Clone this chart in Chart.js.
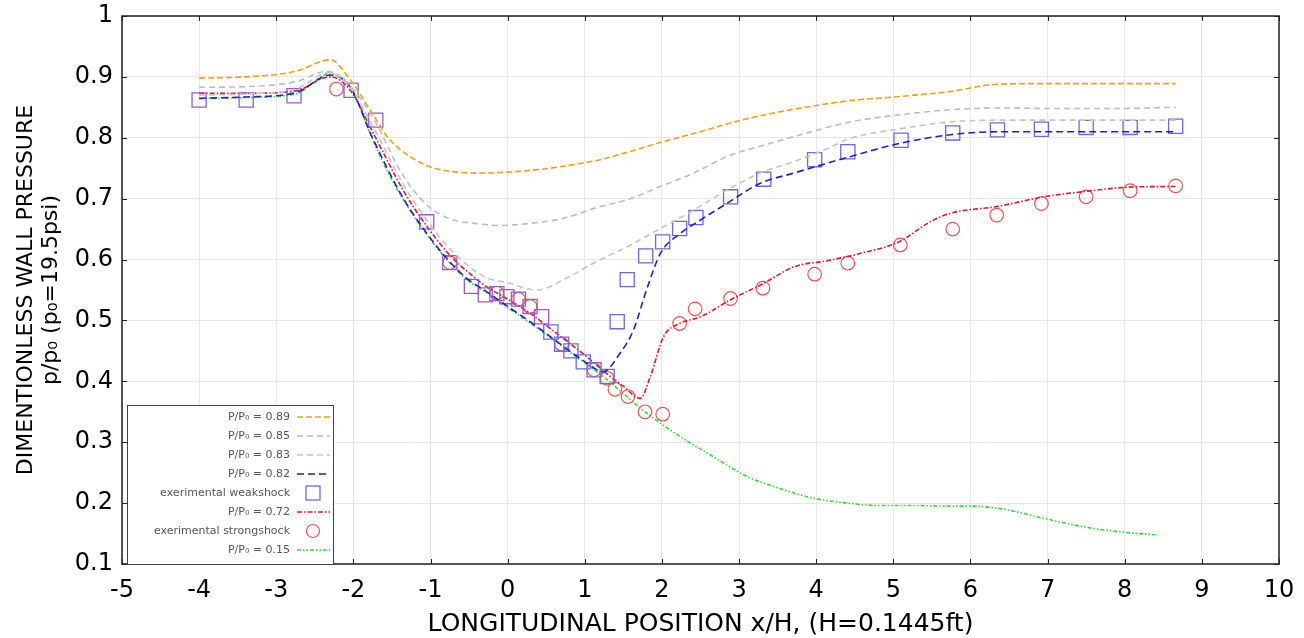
<!DOCTYPE html>
<html>
<head>
<meta charset="utf-8">
<title>Wall pressure distribution</title>
<script src="https://cdn.jsdelivr.net/npm/chart.js@4.4.1/dist/chart.umd.min.js"></script>
<style>
    html, body { margin: 0; padding: 0; background: #fff; }
    #wrap { width: 1304px; height: 638px; }
</style>
</head>
<body>
<div id="wrap"><canvas id="chart" width="1304" height="638"></canvas></div>
<script>
// x/H positions and p/p0 values for each computed back-pressure case
const p089X = [-4.0, -3.4, -2.75, -2.3, -2.04, -1.70, -1.55, -1.3, -1.0, -0.75, -0.4, -0.1, 0.25, 0.55, 0.9, 1.2, 1.6, 2.0, 2.5, 3.0, 3.5, 4.0, 4.44, 5.1, 5.74, 6.35, 7.04, 7.8, 8.66];
const p089Y = [0.898, 0.900, 0.909, 0.928, 0.895, 0.829, 0.800, 0.772, 0.752, 0.745, 0.742, 0.743, 0.746, 0.750, 0.757, 0.764, 0.778, 0.793, 0.810, 0.828, 0.842, 0.853, 0.861, 0.868, 0.876, 0.888, 0.889, 0.889, 0.889];

const p085X = [-4.0, -3.4, -2.75, -2.34, -2.04, -1.71, -1.39, -1.05, -0.75, -0.4, -0.1, 0.33, 0.7, 1.2, 1.55, 1.98, 2.41, 2.84, 3.3, 3.8, 4.44, 5.1, 5.74, 6.4, 7.04, 7.8, 8.66];
const p085Y = [0.883, 0.884, 0.892, 0.909, 0.885, 0.825, 0.745, 0.690, 0.667, 0.659, 0.656, 0.660, 0.667, 0.687, 0.698, 0.720, 0.742, 0.769, 0.787, 0.805, 0.826, 0.838, 0.846, 0.849, 0.848, 0.848, 0.850];

const p083X = [-4.0, -3.4, -2.75, -2.32, -2.04, -1.76, -1.36, -1.05, -0.75, -0.31, 0.0, 0.38, 0.77, 1.11, 1.55, 1.98, 2.41, 2.84, 3.27, 3.71, 4.14, 4.44, 5.1, 5.74, 6.4, 7.04, 7.8, 8.66];
const p083Y = [0.870, 0.872, 0.880, 0.907, 0.882, 0.822, 0.725, 0.665, 0.618, 0.572, 0.562, 0.550, 0.570, 0.594, 0.621, 0.651, 0.681, 0.714, 0.742, 0.761, 0.782, 0.799, 0.815, 0.826, 0.829, 0.829, 0.829, 0.829];

const p082X = [-4.0, -3.4, -2.75, -2.3, -2.04, -1.76, -1.36, -1.1, -0.79, -0.53, -0.27, 0.0, 0.3, 0.6, 0.98, 1.24, 1.45, 1.63, 1.80, 1.98, 2.24, 2.5, 2.84, 3.27, 3.71, 4.44, 5.09, 5.74, 6.39, 7.2, 8.0, 8.66];
const p082Y = [0.865, 0.867, 0.874, 0.903, 0.883, 0.802, 0.702, 0.652, 0.602, 0.569, 0.547, 0.523, 0.497, 0.469, 0.434, 0.416, 0.445, 0.484, 0.550, 0.610, 0.643, 0.665, 0.692, 0.725, 0.742, 0.769, 0.791, 0.805, 0.810, 0.810, 0.810, 0.810];

const p072X = [-4.0, -3.4, -2.75, -2.3, -2.04, -1.76, -1.36, -1.05, -0.75, -0.5, -0.27, 0.0, 0.3, 0.6, 1.0, 1.29, 1.5, 1.72, 1.85, 2.02, 2.23, 2.5, 2.89, 3.32, 3.71, 4.14, 4.57, 5.09, 5.45, 5.74, 6.34, 6.95, 7.5, 8.07, 8.66];
const p072Y = [0.873, 0.873, 0.877, 0.900, 0.878, 0.812, 0.715, 0.655, 0.607, 0.578, 0.555, 0.535, 0.511, 0.482, 0.443, 0.412, 0.392, 0.372, 0.408, 0.473, 0.495, 0.506, 0.534, 0.561, 0.588, 0.598, 0.610, 0.630, 0.660, 0.676, 0.687, 0.703, 0.712, 0.719, 0.720];

const p015X = [-4.0, -3.4, -2.75, -2.3, -2.04, -1.9, -1.76, -1.56, -1.36, -1.1, -0.79, -0.53, -0.27, 0.0, 0.3, 0.6, 0.98, 1.24, 1.5, 1.8, 2.24, 2.67, 3.1, 3.53, 3.97, 4.4, 4.83, 5.3, 5.74, 6.0, 6.43, 6.95, 7.47, 7.99, 8.40];
const p015Y = [0.864, 0.866, 0.872, 0.905, 0.884, 0.845, 0.800, 0.745, 0.700, 0.650, 0.600, 0.567, 0.545, 0.521, 0.495, 0.467, 0.432, 0.408, 0.380, 0.348, 0.309, 0.276, 0.244, 0.224, 0.208, 0.200, 0.196, 0.196, 0.195, 0.195, 0.190, 0.175, 0.161, 0.152, 0.148];

// measured wall pressures
const weakX = [-4.00, -3.39, -2.77, -2.03, -1.71, -1.05, -0.75, -0.47, -0.29, -0.14, -0.01, 0.14, 0.29, 0.44, 0.56, 0.70, 0.82, 0.98, 1.12, 1.29, 1.42, 1.55, 1.79, 2.01, 2.23, 2.44, 2.89, 3.32, 3.98, 4.41, 5.10, 5.77, 6.35, 6.92, 7.50, 8.07, 8.66];
const weakY = [0.862, 0.862, 0.869, 0.878, 0.829, 0.662, 0.595, 0.556, 0.542, 0.544, 0.539, 0.535, 0.523, 0.506, 0.481, 0.461, 0.450, 0.432, 0.419, 0.408, 0.498, 0.567, 0.606, 0.629, 0.651, 0.669, 0.703, 0.732, 0.764, 0.777, 0.796, 0.808, 0.813, 0.814, 0.817, 0.817, 0.819];

const strongX = [-2.22, -0.75, -0.14, 0.14, 0.29, 0.70, 1.12, 1.29, 1.39, 1.56, 1.78, 2.01, 2.23, 2.43, 2.89, 3.31, 3.98, 4.41, 5.09, 5.77, 6.34, 6.92, 7.50, 8.07, 8.66];
const strongY = [0.880, 0.595, 0.545, 0.535, 0.523, 0.461, 0.419, 0.405, 0.387, 0.375, 0.350, 0.346, 0.495, 0.519, 0.536, 0.553, 0.576, 0.594, 0.624, 0.650, 0.673, 0.692, 0.703, 0.713, 0.721];

const xTicks = [-5, -4, -3, -2, -1, 0, 1, 2, 3, 4, 5, 6, 7, 8, 9, 10];
const yTicks = [0.1, 0.2, 0.3, 0.4, 0.5, 0.6, 0.7, 0.8, 0.9, 1];

const FONT = '"DejaVu Sans", "Liberation Sans", sans-serif';

function points(xs, ys) {
    return xs.map((x, i) => ({ x: x, y: ys[i] }));
}

function curve(label, xs, ys, color, dash) {
    return {
        label: label,
        data: points(xs, ys),
        showLine: true,
        borderColor: color,
        backgroundColor: color,
        borderWidth: 1.6,
        borderDash: dash,
        pointRadius: 0,
        pointHoverRadius: 0,
        cubicInterpolationMode: 'monotone'
    };
}

// squares that sit under both test runs come out in a purple tint
const weakColors = weakX.map((x) => (x <= 0.45 && Math.abs(x + 2.03) > 0.01) ? '#9a5ac8' : '#6a6ae0');

const datasets = [
    curve('P/P\u2080 = 0.89', p089X, p089Y, '#f0a214', [6, 3]),
    curve('P/P\u2080 = 0.85', p085X, p085Y, '#bdbdbd', [6, 4]),
    curve('P/P\u2080 = 0.83', p083X, p083Y, '#c4c4c4', [6, 4]),
    curve('P/P\u2080 = 0.82', p082X, p082Y, '#1f1fcc', [7, 4]),
    {
        label: 'exerimental weakshock',
        data: points(weakX, weakY),
        showLine: false,
        pointStyle: 'rect',
        pointRadius: 10,
        pointBorderWidth: 1.3,
        pointBorderColor: weakColors,
        pointBackgroundColor: 'rgba(0,0,0,0)',
        borderColor: '#6a6ae0',
        backgroundColor: 'rgba(0,0,0,0)'
    },
    curve('P/P\u2080 = 0.72', p072X, p072Y, '#e3172b', [5, 2, 1.5, 2]),
    {
        label: 'exerimental strongshock',
        data: points(strongX, strongY),
        showLine: false,
        pointStyle: 'circle',
        pointRadius: 6.8,
        pointBorderWidth: 1.2,
        pointBorderColor: '#ee5555',
        pointBackgroundColor: 'rgba(0,0,0,0)',
        borderColor: '#ee5555',
        backgroundColor: 'rgba(0,0,0,0)'
    },
    curve('P/P\u2080 = 0.15', p015X, p015Y, '#35d835', [4, 2, 1.5, 2, 1.5, 2])
];

// plot frame with small inward ticks on all four sides
const frame = {
    id: 'frame',
    beforeDatasetsDraw(chart) {
        const { ctx, chartArea: a, scales } = chart;
        ctx.save();
        ctx.strokeStyle = '#222';
        ctx.lineWidth = 1.5;
        ctx.strokeRect(a.left, a.top, a.right - a.left, a.bottom - a.top);
        ctx.lineWidth = 1;
        ctx.beginPath();
        xTicks.forEach((v) => {
            const px = Math.round(scales.x.getPixelForValue(v)) + 0.5;
            ctx.moveTo(px, a.top); ctx.lineTo(px, a.top + 5);
            ctx.moveTo(px, a.bottom); ctx.lineTo(px, a.bottom - 5);
        });
        yTicks.forEach((v) => {
            const py = Math.round(scales.y.getPixelForValue(v)) + 0.5;
            ctx.moveTo(a.left, py); ctx.lineTo(a.left + 5, py);
            ctx.moveTo(a.right, py); ctx.lineTo(a.right - 5, py);
        });
        ctx.stroke();
        ctx.restore();
    }
};

// key box in the lower left corner, text on the left and sample on the right
const keyBox = {
    id: 'keyBox',
    afterDatasetsDraw(chart) {
        const { ctx, chartArea: a } = chart;
        const sets = chart.data.datasets;
        const left = a.left + 5;
        const width = 206;
        const rowH = 19;
        const height = 159;
        const top = a.bottom - height;
        ctx.save();
        ctx.fillStyle = '#fff';
        ctx.fillRect(left, top, width, height);
        ctx.strokeStyle = '#444';
        ctx.lineWidth = 1;
        ctx.strokeRect(left + 0.5, top + 0.5, width, height);
        ctx.font = '11px ' + FONT;
        ctx.textAlign = 'right';
        ctx.textBaseline = 'middle';
        sets.forEach((ds, i) => {
            const cy = top + 12 + i * rowH;
            ctx.fillStyle = '#555';
            ctx.fillText(ds.label, left + 163, cy);
            const sx = left + 186;
            if (ds.showLine) {
                ctx.strokeStyle = ds.borderColor;
                ctx.lineWidth = 1.6;
                ctx.setLineDash(ds.borderDash);
                ctx.beginPath();
                ctx.moveTo(left + 170, cy);
                ctx.lineTo(left + 203, cy);
                ctx.stroke();
                ctx.setLineDash([]);
            } else if (ds.pointStyle === 'rect') {
                ctx.strokeStyle = ds.borderColor;
                ctx.lineWidth = 1.3;
                ctx.strokeRect(sx - 7, cy - 7, 14, 14);
            } else {
                ctx.strokeStyle = ds.borderColor;
                ctx.lineWidth = 1.2;
                ctx.beginPath();
                ctx.arc(sx, cy, 6.5, 0, Math.PI * 2);
                ctx.stroke();
            }
        });
        ctx.restore();
    }
};

new Chart(document.getElementById('chart'), {
    type: 'scatter',
    data: { datasets: datasets },
    options: {
        responsive: false,
        animation: false,
        devicePixelRatio: 1,
        layout: { padding: { left: 0, top: 16, right: 25, bottom: 0 } },
        plugins: {
            legend: { display: false },
            tooltip: { enabled: false }
        },
        scales: {
            x: {
                type: 'linear',
                min: -5,
                max: 10,
                afterBuildTicks: (scale) => { scale.ticks = xTicks.map((v) => ({ value: v })); },
                afterFit: (scale) => {
                    scale.height = 74;
                    scale.paddingLeft = 0;
                    scale.paddingRight = 0;
                },
                ticks: {
                    color: '#000',
                    padding: 12,
                    font: { family: FONT, size: 24, lineHeight: 1.2 },
                    callback: (v) => String(v)
                },
                grid: { color: '#e8e8e8', drawTicks: false },
                border: { display: false },
                title: {
                    display: true,
                    text: 'LONGITUDINAL POSITION x/H, (H=0.1445ft)',
                    color: '#000',
                    font: { family: FONT, size: 25, lineHeight: 1.0 },
                    padding: { top: 0, bottom: 1 }
                }
            },
            y: {
                type: 'linear',
                min: 0.1,
                max: 1,
                afterBuildTicks: (scale) => { scale.ticks = yTicks.map((v) => ({ value: v })); },
                afterFit: (scale) => {
                    scale.width = 122;
                    scale.paddingTop = 0;
                    scale.paddingBottom = 0;
                },
                ticks: {
                    color: '#000',
                    padding: 9,
                    font: { family: FONT, size: 24 },
                    callback: (v) => String(Number(v.toFixed(1)))
                },
                grid: { color: '#e8e8e8', drawTicks: false },
                border: { display: false },
                title: {
                    display: true,
                    text: ['DIMENTIONLESS WALL PRESSURE', 'p/p\u2080 (p\u2080=19.5psi)'],
                    color: '#000',
                    font: { family: FONT, size: 22, lineHeight: 1.14 },
                    padding: { top: 14, bottom: 0 }
                }
            }
        }
    },
    plugins: [frame, keyBox]
});
</script>
</body>
</html>
